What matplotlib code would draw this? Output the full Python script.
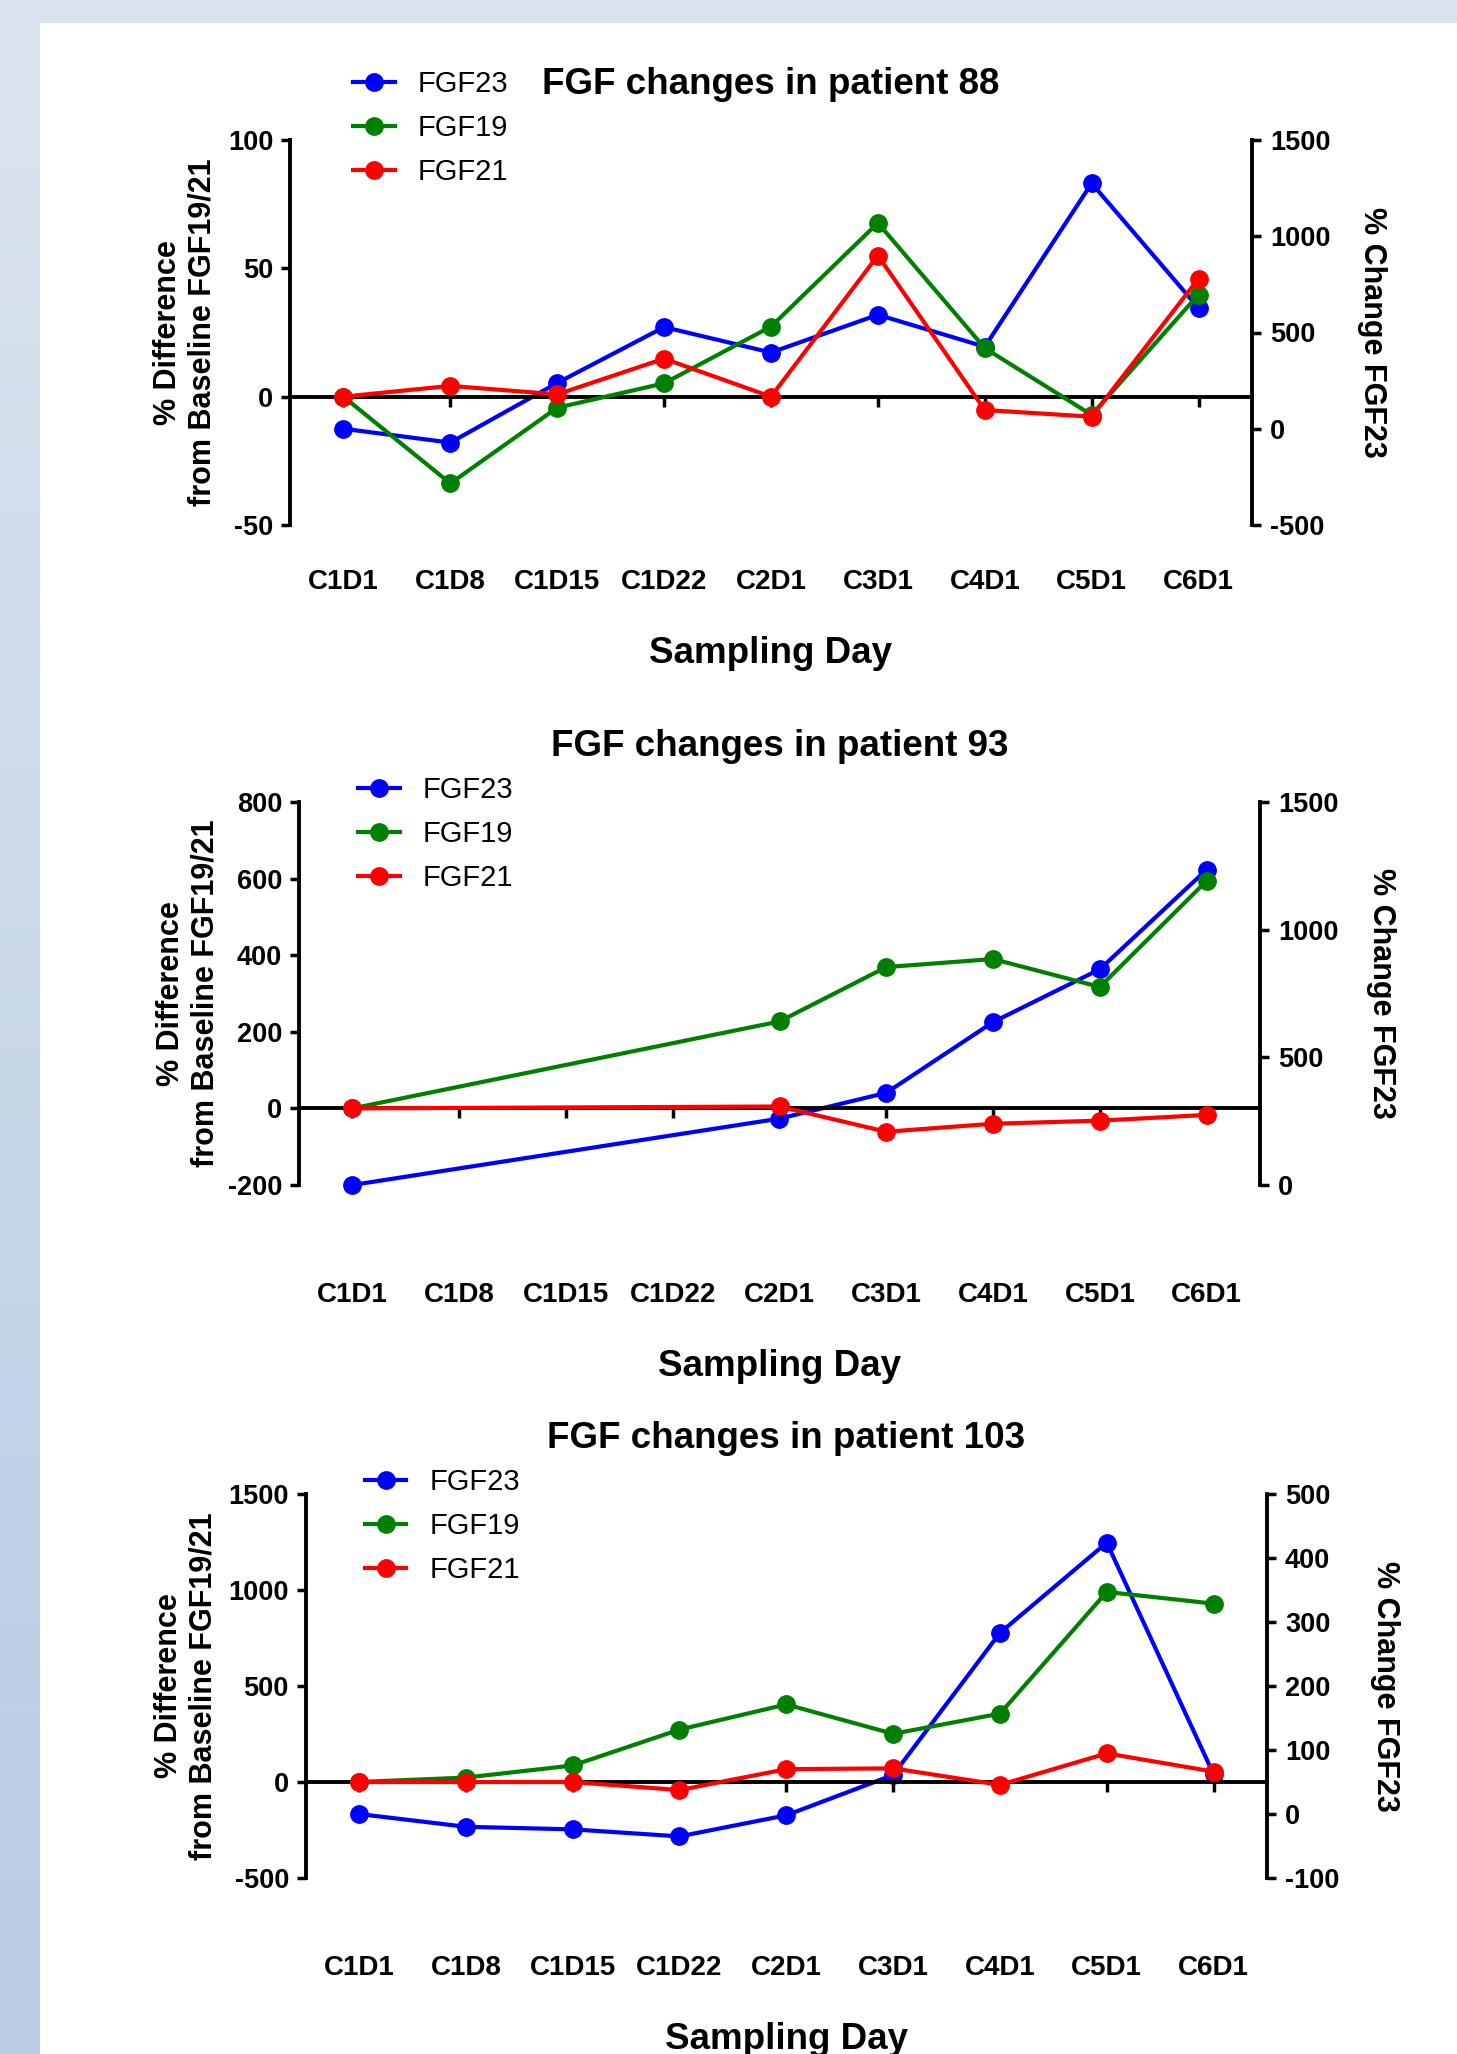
import numpy as np
import matplotlib
matplotlib.use("Agg")
import matplotlib.pyplot as plt
from matplotlib.patches import Rectangle

plt.rcParams['font.family'] = ['Liberation Sans', 'DejaVu Sans']
plt.rcParams['axes.unicode_minus'] = False

# ---------------- data ----------------
days = ['C1D1', 'C1D8', 'C1D15', 'C1D22', 'C2D1', 'C3D1', 'C4D1', 'C5D1', 'C6D1']
nan = np.nan

titles = ['FGF changes in patient 88', 'FGF changes in patient 93', 'FGF changes in patient 103']

p88_fgf23 = [0, -72, 238, 528, 396, 592, 426, 1275, 627]
p88_fgf19 = [0, -33.8, -4.3, 5.2, 27.3, 67.7, 18.9, -7.1, 39.8]
p88_fgf21 = [0, 4.2, 0.9, 14.8, 0, 55, -5.2, -7.8, 46]

p93_fgf23 = [0, nan, nan, nan, 260, 361, 638, 845, 1235]
p93_fgf19 = [0, nan, nan, nan, 227, 369, 390, 317, 594]
p93_fgf21 = [0, nan, nan, nan, 5, -61, -40, -32, -17]

p103_fgf23 = [0, -20, -24, -35, -2, 61, 283, 424, 62]
p103_fgf19 = [0, 23, 86, 273, 404, 251, 356, 990, 929]
p103_fgf21 = [0, 0, 0, -42, 67, 71, -15, 149, 54]

left_ticks = [[-50, 0, 50, 100], [-200, 0, 200, 400, 600, 800], [-500, 0, 500, 1000, 1500]]
right_ticks = [[-500, 0, 500, 1000, 1500], [0, 500, 1000, 1500], [-100, 0, 100, 200, 300, 400, 500]]

series = [(p88_fgf23, p88_fgf19, p88_fgf21),
          (p93_fgf23, p93_fgf19, p93_fgf21),
          (p103_fgf23, p103_fgf19, p103_fgf21)]

# ---------------- layout ----------------
W, H = 1457, 2054
fig = plt.figure(figsize=(W / 100, H / 100), dpi=100)

# background gradient + white panel
bg = fig.add_axes([0, 0, 1, 1], zorder=-20)
bg.axis('off')
top_c = np.array([0.855, 0.894, 0.933])
bot_c = np.array([0.725, 0.800, 0.894])
t = np.linspace(0, 1, 256)[:, None, None]
grad = top_c * (1 - t) + bot_c * t
grad = np.repeat(grad, 2, axis=1)
bg.imshow(grad, aspect='auto', extent=[0, 1, 0, 1], origin='upper')
bg.set_xlim(0, 1); bg.set_ylim(0, 1)
bg.add_patch(Rectangle((40 / W, 0), 1 - 40 / W, 1 - 23 / H, facecolor='white', edgecolor='none'))

# axes rectangles in pixels: (left, right, top, bottom)
rects_px = [(290, 1252, 140, 525), (299, 1260, 802, 1185), (305.6, 1267, 1494, 1878)]
xtick_pad = [32.0, 70.0, 55.5]
ylab_x = [-0.075, -0.082, -0.091]
ylab2_x = [1.109, 1.110, 1.107]
leg_anchor = [(0.0655, 1.182), (0.0614, 1.068), (0.0615, 1.068)]

LW = 3.0
MS = 12.5
SPW = 2.8
x = np.arange(len(days))

for i in range(3):
    l, r, tp, bt = rects_px[i]
    ax = fig.add_axes([l / W, 1 - bt / H, (r - l) / W, (bt - tp) / H])
    ax2 = ax.twinx()
    ax.set_zorder(ax2.get_zorder() + 1)
    ax.patch.set_visible(False)

    f23, f19, f21 = [np.array(s, dtype=float) for s in series[i]]
    m23, m19, m21 = np.isfinite(f23), np.isfinite(f19), np.isfinite(f21)

    h23, = ax2.plot(x[m23], f23[m23], color='#0000ff', lw=LW, marker='o', ms=MS,
                    mec='#0000ff', label='FGF23', clip_on=False)
    h19, = ax.plot(x[m19], f19[m19], color='#008000', lw=LW, marker='o', ms=MS,
                   mec='#008000', label='FGF19', clip_on=False, zorder=3)
    h21, = ax.plot(x[m21], f21[m21], color='#ff0000', lw=LW, marker='o', ms=MS,
                   mec='#ff0000', label='FGF21', clip_on=False, zorder=4)

    ax.set_xlim(-0.5, len(days) - 0.5)
    lt = left_ticks[i]; rt = right_ticks[i]
    ax.set_ylim(lt[0], lt[-1])
    ax2.set_ylim(rt[0], rt[-1])
    ax.set_yticks(lt)
    ax2.set_yticks(rt)

    # spines
    for s in ['top', 'right']:
        ax.spines[s].set_visible(False)
    for s in ['top', 'bottom', 'left']:
        ax2.spines[s].set_visible(False)
    ax.spines['left'].set_linewidth(SPW)
    ax2.spines['right'].set_linewidth(SPW)
    ax.spines['bottom'].set_position(('data', 0))
    ax.spines['bottom'].set_linewidth(SPW)

    ax.set_xticks(x)
    ax.tick_params(axis='x', direction='out', length=7, width=2.5, labelbottom=False)
    ax.tick_params(axis='y', direction='out', length=6.5, width=2.5, pad=5.5, labelsize=19.5)
    ax2.tick_params(axis='y', direction='out', length=6.5, width=2.5, pad=6.5, labelsize=19.5)
    for lab in ax.get_yticklabels() + ax2.get_yticklabels():
        lab.set_fontweight('bold')

    # category labels at the bottom
    sec = ax.secondary_xaxis('bottom')
    sec.set_xticks(x, days)
    sec.spines['bottom'].set_visible(False)
    sec.tick_params(length=0, pad=xtick_pad[i], labelsize=20)
    for lab in sec.get_xticklabels():
        lab.set_fontweight('bold')
    sec.set_xlabel('Sampling Day', fontsize=26.5, fontweight='bold', labelpad=29.5)

    ax.set_ylabel('% Difference\nfrom Baseline FGF19/21', fontsize=22, fontweight='bold')
    ax.yaxis.set_label_coords(ylab_x[i], 0.5)
    ax2.set_ylabel('% Change FGF23', fontsize=22, fontweight='bold', rotation=270, va='bottom')
    ax2.yaxis.set_label_coords(ylab2_x[i], 0.5)

    ax.set_title(titles[i], fontsize=26.5, fontweight='bold', pad=33)

    ax.legend(handles=[h23, h19, h21], loc='upper left', bbox_to_anchor=leg_anchor[i],
              frameon=False, fontsize=21, borderpad=0, borderaxespad=0,
              handlelength=1.43, handletextpad=0.79, labelspacing=0.55)

fig.savefig('out.png', dpi=100)
